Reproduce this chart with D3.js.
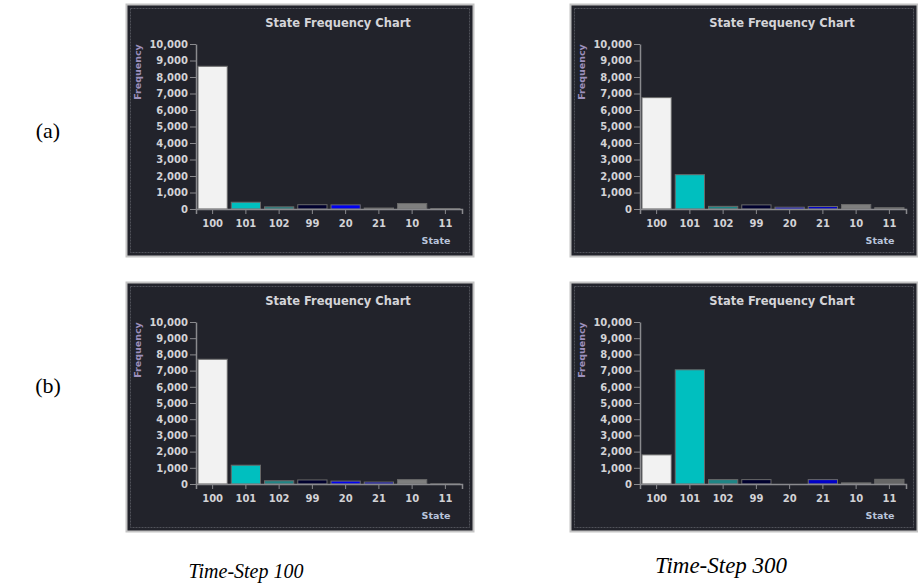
<!DOCTYPE html>
<html>
<head>
<meta charset="utf-8">
<script src="https://cdn.jsdelivr.net/npm/d3@7"></script>
<style>
  html, body { margin: 0; padding: 0; background: #fff; }
  svg { display: block; }
</style>
</head>
<body>
<svg id="fig"></svg>
<script>
// Data
const states = ["100", "101", "102", "99", "20", "21", "10", "11"];
const stateColors = ["#f2f2f2", "#00bfbf", "#1f8585", "#00002e", "#0000f0", "#0000c8", "#7f7f7f", "#666666"];
const freqA100 = [8650, 410, 130, 260, 250, 60, 330, 25];
const freqA300 = [6750, 2080, 160, 250, 110, 150, 270, 80];
const freqB100 = [7700, 1160, 200, 250, 180, 120, 270, 10];
const freqB300 = [1800, 7050, 270, 270, 0, 270, 70, 290];
const yTicks = [0, 1000, 2000, 3000, 4000, 5000, 6000, 7000, 8000, 9000, 10000];
const rowLabels = ["(a)", "(b)"];
const captions = ["Time-Step 100", "Time-Step 300"];

const W = 918, H = 586;
const svg = d3.select("#fig").attr("width", W).attr("height", H);
svg.append("rect").attr("width", W).attr("height", H).attr("fill", "#fff");

const panels = [
  { x: 126, y: 4, w: 348, h: 253, values: freqA100 },
  { x: 570, y: 4, w: 348, h: 253, values: freqA300 },
  { x: 126, y: 282, w: 348, h: 250, values: freqB100 },
  { x: 570, y: 282, w: 348, h: 250, values: freqB300 },
];

const font = "'DejaVu Sans', Verdana, sans-serif";

panels.forEach((p) => {
  const g = svg.append("g").attr("transform", `translate(${p.x},${p.y})`);

  // panel frame
  g.append("rect")
    .attr("x", 0.5).attr("y", 0.5)
    .attr("width", p.w - 1).attr("height", p.h - 1)
    .attr("fill", "#22232b")
    .attr("stroke", "#c4c4c4")
    .attr("stroke-width", 2);
  g.append("rect")
    .attr("x", 4.5).attr("y", 4.5)
    .attr("width", p.w - 9).attr("height", p.h - 9)
    .attr("fill", "none")
    .attr("stroke", "#50525a")
    .attr("stroke-dasharray", "2,1");

  const left = 70, top = 40, bottom = p.h - 48;

  const x = d3.scaleBand()
    .domain(states)
    .range([left, left + 266])
    .paddingInner(0.12)
    .paddingOuter(0.06);
  const y = d3.scaleLinear().domain([0, 10000]).range([bottom, top]);

  g.append("text")
    .attr("x", 212).attr("y", 23)
    .attr("text-anchor", "middle")
    .attr("font-family", font)
    .attr("font-weight", "bold")
    .attr("font-size", 11.5)
    .attr("fill", "#d4d4d8")
    .text("State Frequency Chart");

  // bars
  g.selectAll(".bar")
    .data(p.values)
    .enter()
    .append("rect")
    .attr("class", "bar")
    .attr("x", (d, j) => x(states[j]))
    .attr("y", (d) => y(d))
    .attr("width", x.bandwidth())
    .attr("height", (d) => bottom - y(d))
    .attr("fill", (d, j) => stateColors[j])
    .attr("stroke", (d) => (d > 0 ? "#6a6a6a" : "none"))
    .attr("stroke-width", 1);

  // y axis
  const yAxis = g.append("g")
    .attr("transform", `translate(${left},0)`)
    .call(d3.axisLeft(y).tickValues(yTicks).tickFormat(d3.format(",")).tickSize(6).tickSizeOuter(0).tickPadding(2));

  // x axis
  const xAxis = g.append("g")
    .attr("transform", `translate(0,${bottom})`)
    .call(d3.axisBottom(x).tickSize(5).tickSizeOuter(5).tickPadding(6));

  [yAxis, xAxis].forEach((a) => {
    a.select(".domain").attr("stroke", "#8a8a8e").attr("stroke-width", 1.5);
    a.selectAll(".tick line").attr("stroke", "#8a8a8e");
    a.selectAll("text")
      .attr("font-family", font)
      .attr("font-weight", "bold")
      .attr("font-size", 10)
      .attr("fill", "#d2d2d6");
  });

  g.append("text")
    .attr("transform", "translate(15,68) rotate(-90)")
    .attr("text-anchor", "middle")
    .attr("font-family", font)
    .attr("font-weight", "bold")
    .attr("font-size", 9.5)
    .attr("fill", "#9d90bc")
    .text("Frequency");

  g.append("text")
    .attr("x", 310).attr("y", p.h - 13)
    .attr("text-anchor", "middle")
    .attr("font-family", font)
    .attr("font-weight", "bold")
    .attr("font-size", 9.5)
    .attr("fill", "#b9c4dc")
    .text("State");
});

// row labels
rowLabels.forEach((t, i) => {
  svg.append("text")
    .attr("x", 48).attr("y", i === 0 ? 138 : 393)
    .attr("text-anchor", "middle")
    .attr("font-family", "'Liberation Serif', 'Times New Roman', serif")
    .attr("font-size", 22)
    .attr("fill", "#000")
    .text(t);
});

// captions
svg.append("text")
  .attr("x", 246).attr("y", 578)
  .attr("text-anchor", "middle")
  .attr("font-family", "'Liberation Serif', 'Times New Roman', serif")
  .attr("font-style", "italic")
  .attr("font-size", 20)
  .text(captions[0]);
svg.append("text")
  .attr("x", 721).attr("y", 573)
  .attr("text-anchor", "middle")
  .attr("font-family", "'Liberation Serif', 'Times New Roman', serif")
  .attr("font-style", "italic")
  .attr("font-size", 23)
  .text(captions[1]);
</script>
</body>
</html>
